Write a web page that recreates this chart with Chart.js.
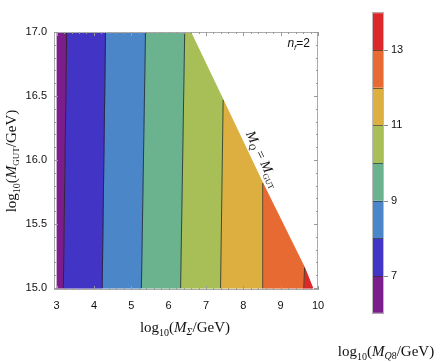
<!DOCTYPE html>
<html lang="en">
  <head>
    <meta charset="UTF-8" />
    <title>M_Q8 contours, n_f=2</title>
    <script src="https://cdn.jsdelivr.net/npm/chart.js"></script>
    <style>
      html, body { margin: 0; padding: 0; background: #fff; }
      #wrap { position: relative; width: 443px; height: 362px; }
    </style>
  </head>
  <body>
    <div id="wrap"><canvas id="chart" width="443" height="362"></canvas></div>

    <script>
      // contour levels of log10(M_Q8/GeV) and band colours
      const levels = [6, 7, 8, 9, 10, 11, 12, 13, 14];
      const bandColors = ["#7b1e8b", "#4234c4", "#4a86c8", "#6ab38e", "#a8bf58", "#dcaf40", "#e66a32", "#dc2828"];

      // contour lines for levels 7..13 (x at bottom, x/y at upper end)
      const contourLevels = [7, 8, 9, 10, 11, 12, 13];
      const contourXBottom = [3.18, 4.22, 5.27, 6.32, 7.39, 8.51, 9.62];
      const contourXTop = [3.27, 4.31, 5.38, 6.43, 7.46, 8.52, 9.64];
      const contourYTop = [17, 17, 17, 17, 16.47, 15.82, 15.16];

      // M_Q = M_GUT edge of the allowed region
      const edgeX = [6.59, 9.86];
      const edgeY = [17, 15];
      const domainX = 3;
      const domainY = [15, 17];

      // tick labels
      const xTickVals = [3, 4, 5, 6, 7, 8, 9, 10];
      const yTickVals = [15, 15.5, 16, 16.5, 17];
      const cbTickVals = [7, 9, 11, 13];

      // build band polygons from contours
      const bands = [];
      for (let i = 0; i < bandColors.length; i++) {
        const left = i === 0
          ? { xb: domainX, xt: domainX, yt: domainY[1] }
          : { xb: contourXBottom[i - 1], xt: contourXTop[i - 1], yt: contourYTop[i - 1] };
        const right = i < contourLevels.length
          ? { xb: contourXBottom[i], xt: contourXTop[i], yt: contourYTop[i] }
          : { xb: edgeX[1], xt: edgeX[1], yt: edgeY[1] };
        const pts = [
          { x: left.xb, y: domainY[0] },
          { x: right.xb, y: domainY[0] },
          { x: right.xt, y: right.yt },
        ];
        if (right.yt < domainY[1] && left.yt >= domainY[1]) {
          pts.push({ x: edgeX[0], y: edgeY[0] });
        }
        pts.push({ x: left.xt, y: left.yt });
        bands.push(pts);
      }

      const datasets = bands.map((pts, i) => ({
        data: pts,
        showLine: true,
        fill: "shape",
        backgroundColor: bandColors[i],
        borderColor: bandColors[i],
        borderWidth: 1,
        pointRadius: 0,
        tension: 0,
        order: 2,
      }));
      contourLevels.forEach((lv, i) => {
        datasets.push({
          data: [
            { x: contourXBottom[i], y: domainY[0] },
            { x: contourXTop[i], y: contourYTop[i] },
          ],
          showLine: true,
          fill: false,
          borderColor: "rgba(35,35,35,0.75)",
          borderWidth: 1,
          pointRadius: 0,
          order: 1,
        });
      });

      // rich text helper (subscripts, italics)
      function drawRich(ctx, parts, x, y, align) {
        let w = 0;
        parts.forEach((p) => {
          ctx.font = p.font;
          p.w = ctx.measureText(p.t).width;
          w += p.w;
        });
        let cx = align === "center" ? x - w / 2 : align === "right" ? x - w : x;
        ctx.textBaseline = "alphabetic";
        ctx.textAlign = "left";
        parts.forEach((p) => {
          ctx.font = p.font;
          ctx.fillText(p.t, cx, y + (p.dy || 0));
          cx += p.w;
        });
      }

      const SERIF = "'Liberation Serif', 'DejaVu Serif', serif";
      const R = (s) => s + "px " + SERIF;
      const I = (s) => "italic " + s + "px " + SERIF;

      const framePlugin = {
        id: "frame",
        afterDraw(chart) {
          const ctx = chart.ctx;
          const a = chart.chartArea;
          const xs = chart.scales.x, ys = chart.scales.y;
          ctx.save();

          // frame
          ctx.strokeStyle = "#aaaaaa";
          ctx.lineWidth = 1;
          ctx.strokeRect(a.left + 0.5, a.top + 0.5, a.right - a.left - 1, a.bottom - a.top - 1);

          // inward ticks on all sides
          ctx.strokeStyle = "#999999";
          ctx.beginPath();
          for (let v = 3; v <= 10.001; v += 0.2) {
            const major = Math.abs(v - Math.round(v)) < 1e-6;
            const len = major ? 4 : 2;
            const px = Math.round(xs.getPixelForValue(v)) + 0.5;
            ctx.moveTo(px, a.bottom); ctx.lineTo(px, a.bottom - len);
            ctx.moveTo(px, a.top); ctx.lineTo(px, a.top + len);
          }
          for (let v = 15; v <= 17.001; v += 0.1) {
            const major = Math.abs(v * 2 - Math.round(v * 2)) < 1e-6;
            const len = major ? 4 : 2;
            const py = Math.round(ys.getPixelForValue(v)) + 0.5;
            ctx.moveTo(a.left, py); ctx.lineTo(a.left + len, py);
            ctx.moveTo(a.right, py); ctx.lineTo(a.right - len, py);
          }
          ctx.stroke();

          ctx.fillStyle = "#111";

          // x axis title
          drawRich(ctx, [
            { t: "log", font: R(15) },
            { t: "10", font: R(10), dy: 4 },
            { t: "(", font: R(15) },
            { t: "M", font: I(15) },
            { t: "Σ", font: I(10), dy: 3 },
            { t: "/GeV)", font: R(15) },
          ], 185, 332, "center");

          // y axis title
          ctx.save();
          ctx.translate(16, 161);
          ctx.rotate(-Math.PI / 2);
          drawRich(ctx, [
            { t: "log", font: R(15) },
            { t: "10", font: R(10), dy: 4 },
            { t: "(", font: R(15) },
            { t: "M", font: I(15) },
            { t: "GUT", font: R(9), dy: 3 },
            { t: "/GeV)", font: R(15) },
          ], 0, 0, "center");
          ctx.restore();

          // M_Q = M_GUT label along edge
          ctx.save();
          ctx.translate(259, 161);
          ctx.rotate(Math.atan2(256, 122));
          drawRich(ctx, [
            { t: "M", font: I(14) },
            { t: "Q", font: I(9), dy: 3 },
            { t: " = ", font: R(14) },
            { t: "M", font: I(14) },
            { t: "GUT", font: R(8), dy: 3 },
          ], 0, 0, "center");
          ctx.restore();

          // n_f = 2
          drawRich(ctx, [
            { t: "n", font: "italic 12px 'Liberation Sans', Arial, sans-serif" },
            { t: "f", font: "italic 8px 'Liberation Sans', Arial, sans-serif", dy: 3 },
            { t: "=2", font: "12px 'Liberation Sans', Arial, sans-serif" },
          ], 310, 47, "right");

          // colour bar
          const cbL = 372, cbW = 12, cbTop = 12.3, cbBot = 313.7;
          const cbY = (v) => cbBot - (v - levels[0]) * (cbBot - cbTop) / (levels[levels.length - 1] - levels[0]);
          for (let i = 0; i < bandColors.length; i++) {
            const y0 = cbY(levels[i + 1]), y1 = cbY(levels[i]);
            ctx.fillStyle = bandColors[i];
            ctx.fillRect(cbL, y0, cbW, y1 - y0);
          }
          ctx.strokeStyle = "rgba(40,40,40,0.6)";
          ctx.beginPath();
          for (let i = 1; i < levels.length - 1; i++) {
            const y = Math.round(cbY(levels[i])) + 0.5;
            ctx.moveTo(cbL, y); ctx.lineTo(cbL + cbW, y);
          }
          ctx.stroke();
          ctx.strokeStyle = "#bbbbbb";
          ctx.strokeRect(cbL + 0.5, cbTop + 0.5, cbW - 1, cbBot - cbTop - 1);
          ctx.strokeStyle = "#888";
          ctx.beginPath();
          cbTickVals.forEach((v) => {
            const y = Math.round(cbY(v)) + 0.5;
            ctx.moveTo(cbL + cbW, y); ctx.lineTo(cbL + cbW + 4, y);
          });
          ctx.stroke();
          ctx.fillStyle = "#111";
          ctx.font = "11px 'Liberation Sans', Arial, sans-serif";
          ctx.textAlign = "left";
          ctx.textBaseline = "middle";
          cbTickVals.forEach((v) => ctx.fillText(String(v), cbL + cbW + 7, cbY(v)));

          // colour bar title
          drawRich(ctx, [
            { t: "log", font: R(15) },
            { t: "10", font: R(10), dy: 4 },
            { t: "(", font: R(15) },
            { t: "M", font: I(15) },
            { t: "Q", font: I(10), dy: 3 },
            { t: "8", font: R(10), dy: 3 },
            { t: "/GeV)", font: R(15) },
          ], 386, 356, "center");

          ctx.restore();
        },
      };

      new Chart(document.getElementById("chart"), {
        type: "scatter",
        data: { datasets },
        options: {
          responsive: false,
          animation: false,
          layout: { padding: { top: 32, right: 125, left: 0, bottom: 0 } },
          plugins: { legend: { display: false }, tooltip: { enabled: false } },
          scales: {
            x: {
              type: "linear",
              min: 2.93,
              max: 10,
              grid: { display: false, drawTicks: false },
              border: { display: false },
              afterBuildTicks: (s) => { s.ticks = xTickVals.map((v) => ({ value: v })); },
              afterFit: (s) => { s.height = 72; },
              ticks: {
                padding: 9,
                color: "#111",
                font: { family: "'Liberation Sans', Arial, sans-serif", size: 11 },
                callback: (v) => String(v),
              },
            },
            y: {
              type: "linear",
              min: 14.985,
              max: 17,
              grid: { display: false, drawTicks: false },
              border: { display: false },
              afterBuildTicks: (s) => { s.ticks = yTickVals.map((v) => ({ value: v })); },
              afterFit: (s) => { s.width = 54; },
              ticks: {
                padding: 7,
                color: "#111",
                font: { family: "'Liberation Sans', Arial, sans-serif", size: 11 },
                callback: (v) => Number(v).toFixed(1),
              },
            },
          },
        },
        plugins: [framePlugin],
      });
    </script>
  </body>
</html>
